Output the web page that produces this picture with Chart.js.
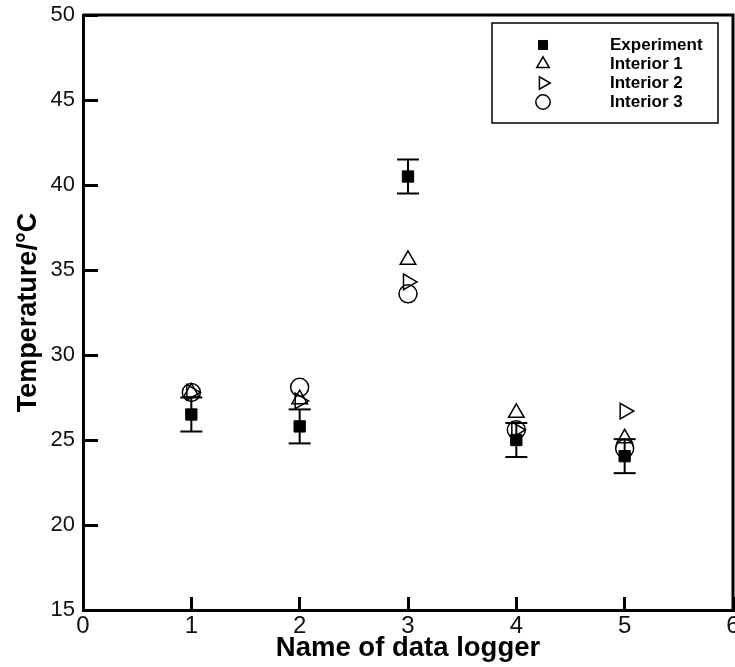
<!DOCTYPE html>
<html>
<head>
<meta charset="utf-8">
<script src="https://cdn.jsdelivr.net/npm/chart.js@4.4.1/dist/chart.umd.min.js"></script>
<style>
  html, body { margin: 0; padding: 0; background: #fff; }
  #wrap { width: 735px; height: 667px; }
</style>
</head>
<body>
<div id="wrap"><canvas id="myChart" width="735" height="667"></canvas></div>
<script>
// data
var loggers = [1, 2, 3, 4, 5];
var experiment = [26.5, 25.8, 40.5, 25.0, 24.05];
var expError = [1, 1, 1, 1, 1];
var interior1 = [27.8, 27.4, 35.6, 26.6, 25.1];
var interior2 = [27.8, 27.3, 34.3, 25.6, 26.7];
var interior3 = [27.8, 28.1, 33.6, 25.6, 24.5];
var xTicks = [0, 1, 2, 3, 4, 5, 6];
var yTicks = [15, 20, 25, 30, 35, 40, 45, 50];

function pts(values) {
	return loggers.map(function(x, i) { return { x: x, y: values[i] }; });
}

// error bars: low/high pairs split by gaps
var errPts = [];
loggers.forEach(function(x, i) {
	errPts.push({ x: x, y: experiment[i] - expError[i] });
	errPts.push({ x: x, y: experiment[i] + expError[i] });
	errPts.push({ x: x, y: null });
});

function noPadding(scale) {
	scale.paddingLeft = 0;
	scale.paddingRight = 0;
	scale.paddingTop = 0;
	scale.paddingBottom = 0;
}

var frame = {
	id: 'frame',
	afterDraw: function(chart) {
		var a = chart.chartArea, ctx = chart.ctx;
		ctx.save();
		ctx.strokeStyle = '#000';
		ctx.lineWidth = 3;
		ctx.beginPath();
		ctx.moveTo(a.left, a.top);
		ctx.lineTo(a.right, a.top);
		ctx.lineTo(a.right, a.bottom);
		ctx.stroke();
		ctx.restore();
	}
};

var boxLegend = {
	id: 'boxLegend',
	afterDraw: function(chart) {
		var a = chart.chartArea, ctx = chart.ctx;
		var bx = a.right - 241, by = a.top + 8, bw = 226, bh = 100;
		ctx.save();
		ctx.strokeStyle = '#000';
		ctx.lineWidth = 1.5;
		ctx.strokeRect(bx, by, bw, bh);
		ctx.font = 'bold 17px "Liberation Sans", Arial, sans-serif';
		ctx.textBaseline = 'middle';
		var items = chart.data.datasets.filter(function(d) { return d.label; });
		items.forEach(function(d, i) {
			var y = by + 22 + i * 19;
			ctx.strokeStyle = '#000';
			ctx.fillStyle = d.pointBackgroundColor;
			ctx.lineWidth = d.pointBorderWidth;
			Chart.helpers.drawPoint(ctx, {
				pointStyle: d.pointStyle,
				radius: d.pointRadius * 0.8,
				rotation: d.pointRotation || 0,
				borderWidth: d.pointBorderWidth
			}, bx + 51, y);
			ctx.fillStyle = '#000';
			ctx.fillText(d.label, bx + 118, y);
		});
		ctx.restore();
	}
};

var ctx = document.getElementById('myChart').getContext('2d');
var myChart = new Chart(ctx, {
	type: 'scatter',
	data: {
		datasets: [
			{
				label: 'Experiment',
				data: pts(experiment),
				pointStyle: 'rect',
				pointRadius: 8,
				pointBackgroundColor: '#000',
				pointBorderColor: '#000',
				pointBorderWidth: 1
			},
			{
				data: errPts,
				showLine: true,
				spanGaps: false,
				borderColor: '#000',
				borderWidth: 2,
				pointStyle: 'line',
				pointRadius: 11,
				pointBorderColor: '#000',
				pointBorderWidth: 2
			},
			{
				label: 'Interior 1',
				data: pts(interior1),
				pointStyle: 'triangle',
				pointRadius: 9,
				pointBackgroundColor: 'rgba(0,0,0,0)',
				pointBorderColor: '#000',
				pointBorderWidth: 1.5
			},
			{
				label: 'Interior 2',
				data: pts(interior2),
				pointStyle: 'triangle',
				pointRotation: 90,
				pointRadius: 9,
				pointBackgroundColor: 'rgba(0,0,0,0)',
				pointBorderColor: '#000',
				pointBorderWidth: 1.5
			},
			{
				label: 'Interior 3',
				data: pts(interior3),
				pointStyle: 'circle',
				pointRadius: 9,
				pointBackgroundColor: 'rgba(0,0,0,0)',
				pointBorderColor: '#000',
				pointBorderWidth: 1.5
			}
		]
	},
	options: {
		responsive: false,
		animation: false,
		layout: { autoPadding: false, padding: { left: 0, top: 15, right: 2, bottom: 2 } },
		plugins: {
			legend: { display: false },
			tooltip: { enabled: false }
		},
		scales: {
			x: {
				type: 'linear',
				min: 0,
				max: 6,
				afterBuildTicks: function(scale) {
					scale.ticks = xTicks.map(function(v) { return { value: v }; });
				},
				afterFit: function(scale) {
					scale.height = 55;
					noPadding(scale);
				},
				grid: { drawOnChartArea: false, tickLength: -13, tickWidth: 3, tickColor: '#000' },
				border: { color: '#000', width: 3 },
				ticks: {
					padding: 15,
					color: '#111',
					font: { family: '"Liberation Sans", Arial, sans-serif', size: 24 }
				},
				title: {
					display: true,
					text: 'Name of data logger',
					color: '#000',
					padding: { top: 0, bottom: 0 },
					font: { family: '"Liberation Sans", Arial, sans-serif', size: 27.5, weight: 'bold' }
				}
			},
			y: {
				min: 15,
				max: 50,
				afterBuildTicks: function(scale) {
					scale.ticks = yTicks.map(function(v) { return { value: v }; });
				},
				afterFit: function(scale) {
					scale.width = 83;
					noPadding(scale);
				},
				grid: { drawOnChartArea: false, tickLength: -15, tickWidth: 3, tickColor: '#000' },
				border: { color: '#000', width: 3 },
				ticks: {
					padding: 23,
					color: '#111',
					font: { family: '"Liberation Sans", Arial, sans-serif', size: 22 }
				},
				title: {
					display: true,
					text: 'Temperature/°C',
					color: '#000',
					padding: { top: 12, bottom: 0 },
					font: { family: '"Liberation Sans", Arial, sans-serif', size: 27, weight: 'bold' }
				}
			}
		}
	},
	plugins: [frame, boxLegend]
});
</script>
</body>
</html>
